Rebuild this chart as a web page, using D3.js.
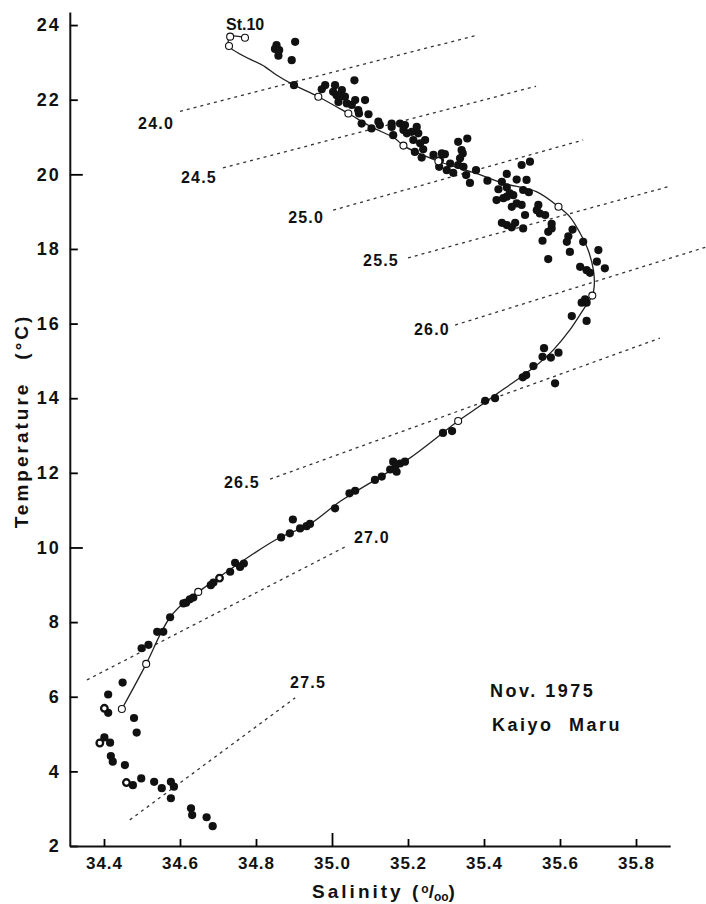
<!DOCTYPE html>
<html>
<head>
  <meta charset="utf-8">
  <script src="https://d3js.org/d3.v7.min.js"></script>
  <style>
    body { margin: 0; background: #fff; }
    text {
      font-family: "Liberation Sans", Arial, Helvetica, sans-serif;
      font-weight: bold;
      fill: #111;
    }
  </style>
</head>
<body>
<script>
/*
  T-S diagram data (salinity, temperature)
*/
var yTicks = [2, 4, 6, 8, 10, 12, 14, 16, 18, 20, 22, 24];
var xTicks = [34.4, 34.6, 34.8, 35.0, 35.2, 35.4, 35.6, 35.8];

// all other stations
var filledDots = [
  [34.854,23.46],[34.850,23.36],[34.861,23.33],[34.859,23.18],[34.903,23.55],[34.894,23.06],[34.900,22.39],
  [34.982,22.39],[34.973,22.28],[35.008,22.39],[35.003,22.21],[35.012,22.12],[35.026,22.26],[35.021,22.08],
  [35.017,21.94],[35.034,22.08],[35.039,21.90],[35.052,21.86],[35.061,21.99],[35.059,22.52],[35.087,21.99],
  [35.069,21.72],[35.071,21.63],[35.096,21.61],[35.078,21.36],[35.104,21.23],[35.122,21.41],[35.126,21.32],
  [35.157,21.36],[35.161,21.05],
  [35.157,21.27],[35.179,21.36],[35.192,21.32],[35.188,21.19],[35.197,21.10],[35.210,21.14],[35.223,21.27],
  [35.227,21.10],[35.214,20.92],[35.232,20.83],[35.245,20.92],[35.240,20.67],[35.218,20.60],[35.236,20.45],
  [35.267,20.52],[35.289,20.56],[35.297,20.54],[35.284,20.38],[35.282,20.20],[35.311,20.29],[35.302,20.11],
  [35.332,20.87],[35.356,20.96],[35.341,20.65],[35.344,20.56],[35.337,20.43],[35.332,20.25],[35.346,20.20],
  [35.319,20.04],[35.353,19.98],[35.363,19.77],[35.379,20.11],[35.409,19.83],[35.438,19.60],[35.460,20.01],
  [35.447,19.80],[35.486,19.86],[35.499,20.25],[35.512,19.85],[35.460,19.65],[35.468,19.49],[35.477,19.44],
  [35.433,19.31],[35.451,19.36],[35.486,19.22],[35.473,19.13],[35.503,19.58],[35.518,19.52],
  [35.521,20.34],[35.460,19.40],[35.499,19.18],[35.508,18.91],[35.543,19.18],[35.539,19.04],[35.547,18.95],
  [35.561,18.91],[35.447,18.70],[35.460,18.64],[35.473,18.58],[35.482,18.70],[35.503,18.55],[35.578,18.67],
  [35.578,18.55],[35.569,18.46],[35.633,18.52],[35.622,18.34],[35.618,18.19],[35.554,18.22],[35.661,18.19],
  [35.626,17.92],[35.701,17.97],[35.697,17.66],[35.569,17.73],[35.653,17.52],[35.670,17.43],[35.679,17.36],
  [35.718,17.48],
  [35.657,16.56],[35.666,16.65],[35.670,16.56],[35.631,16.20],[35.670,16.07],[35.558,15.34],[35.554,15.11],
  [35.576,15.09],[35.596,15.22],[35.530,14.86],[35.502,14.56],[35.511,14.62],[35.587,14.40],[35.429,14.00],
  [35.403,13.93],
  [35.292,13.07],[35.316,13.12],[35.161,12.30],[35.170,12.03],[35.153,12.09],[35.179,12.25],[35.192,12.30],
  [35.168,12.21],[35.131,11.90],[35.113,11.81],[35.061,11.52],[35.046,11.45],[35.008,11.05],[34.942,10.63],
  [34.933,10.57],[34.916,10.51],[34.897,10.75],[34.889,10.38],[34.866,10.27],[34.768,9.57],[34.745,9.59],
  [34.758,9.48],[34.732,9.35],[34.688,9.06],[34.681,8.99],[34.635,8.66],[34.626,8.61],[34.616,8.52],
  [34.609,8.50],[34.574,8.13],[34.540,7.74],[34.556,7.74],[34.517,7.39],[34.499,7.30],
  [34.449,6.38],[34.411,6.06],[34.411,5.57],[34.479,5.43],[34.486,5.04],[34.401,4.91],[34.416,4.77],
  [34.418,4.41],[34.423,4.26],[34.455,4.17],[34.476,3.63],[34.498,3.81],[34.532,3.72],[34.552,3.55],
  [34.576,3.72],[34.584,3.59],[34.576,3.28],[34.629,3.01],[34.632,2.83],[34.670,2.77],[34.686,2.53]
];

// dots printed with a white centre
var ringDots = [[34.401,5.69],[34.389,4.76],[34.459,3.70],[34.704,9.18]];

// St.10 observations (open circles)
var stationDots = [
  [34.771,23.66],[34.732,23.69],[34.729,23.44],[34.964,22.08],[35.043,21.63],[35.188,20.77],[35.280,20.35],
  [35.596,19.13],[35.685,16.75],[35.332,13.39],[34.648,8.81],[34.511,6.88],[34.447,5.67]
];

// hand drawn St.10 curve
var curvePts = [
  [34.771,23.66],[34.732,23.69],[34.729,23.44],[34.824,22.88],[34.854,22.66],[34.900,22.39],[34.964,22.08],
  [35.043,21.63],[35.104,21.27],[35.166,20.96],[35.188,20.77],[35.280,20.35],[35.389,19.99],[35.451,19.76],
  [35.539,19.53],[35.596,19.13],[35.626,18.86],[35.653,18.42],[35.674,17.97],[35.688,17.43],[35.690,16.99],
  [35.685,16.75],[35.666,16.45],[35.626,15.83],[35.582,15.29],[35.539,14.89],[35.486,14.49],[35.433,14.11],
  [35.389,13.79],[35.332,13.39],[35.197,12.34],[35.021,11.23],[34.942,10.63],[34.858,10.24],[34.749,9.53],
  [34.648,8.81],[34.618,8.59],[34.574,8.13],[34.547,7.65],[34.511,6.88],[34.447,5.67]
];

// sigma-t isopleths
var sigmaLabels = ["24.0", "24.5", "25.0", "25.5", "26.0", "26.5", "27.0", "27.5"];
var sigmaStart = [[34.600,21.69],[34.713,20.17],[35.003,19.04],[35.200,17.76],[35.324,15.96],[34.837,11.83],[34.355,6.45],[34.468,2.70]];
var sigmaEnd = [[35.382,23.73],[35.537,22.36],[35.661,20.92],[35.889,19.68],[35.984,18.05],[35.863,15.61],[35.039,10.04],[34.903,5.97]];
var sigmaLabelAt = [[34.537,21.37],[34.650,19.93],[34.932,18.85],[35.129,17.70],[35.263,15.85],[34.763,11.75],[35.105,10.28],[34.937,6.39]];

/*
  svg + scales
*/
var width = 706, height = 904;
var svg = d3.select("body").append("svg")
  .attr("width", width)
  .attr("height", height);

var x = d3.scaleLinear().domain([34.31, 35.89]).range([69.8, 670.2]);
var y = d3.scaleLinear().domain([2, 24.35]).range([846, 12]);

/*
  axes
*/
var yAxis = svg.append("g")
  .attr("transform", "translate(" + x.range()[0] + ",0)")
  .call(d3.axisLeft(y).tickValues(yTicks).tickSizeInner(-8).tickSizeOuter(0)
    .tickPadding(9).tickFormat(d3.format("d")));
yAxis.selectAll(".tick line")
  .attr("x2", function(d) { return d % 10 === 0 ? 13 : 8; })
  .attr("stroke-width", 1.8);
yAxis.selectAll(".tick text")
  .attr("font-size", null)
  .style("font-size", "18px")
  .style("letter-spacing", "2px");

var xAxis = svg.append("g")
  .attr("transform", "translate(0," + y.range()[0] + ")")
  .call(d3.axisBottom(x).tickValues(xTicks).tickSizeInner(-7).tickSizeOuter(0)
    .tickPadding(11).tickFormat(d3.format(".1f")));
xAxis.selectAll(".tick line")
  .attr("y2", function(d) { return Math.abs(d - 35) < 1e-6 ? -13 : -7; })
  .attr("stroke-width", 1.8);
xAxis.selectAll(".tick text")
  .attr("font-size", null)
  .style("font-size", "17px")
  .style("letter-spacing", "1px");

svg.selectAll(".domain").attr("stroke", "#111").attr("stroke-width", 2);

/*
  axis titles
*/
var yTitle = svg.append("text")
  .attr("transform", "translate(28,421) rotate(-90)")
  .attr("text-anchor", "middle")
  .style("font-size", "19px")
  .style("letter-spacing", "3px");
yTitle.append("tspan").text("Temperature");
yTitle.append("tspan").attr("dx", 22).text("(\u00B0C)");

var xTitle = svg.append("text")
  .attr("x", 385)
  .attr("y", 898)
  .attr("text-anchor", "middle")
  .style("font-size", "19px")
  .style("letter-spacing", "3px");
xTitle.append("tspan").text("Salinity (");
xTitle.append("tspan").attr("dy", -5).style("font-size", "12px").style("letter-spacing", "0px").text("o");
xTitle.append("tspan").attr("dy", 5).style("letter-spacing", "0px").text("/");
xTitle.append("tspan").attr("dy", 3).style("font-size", "12px").style("letter-spacing", "0px").text("oo");
xTitle.append("tspan").attr("dy", -3).text(")");

/*
  sigma-t lines
*/
var sig = svg.append("g").attr("class", "sigma");
sig.selectAll("line")
  .data(sigmaLabels)
  .enter().append("line")
  .attr("x1", function(d, i) { return x(sigmaStart[i][0]); })
  .attr("y1", function(d, i) { return y(sigmaStart[i][1]); })
  .attr("x2", function(d, i) { return x(sigmaEnd[i][0]); })
  .attr("y2", function(d, i) { return y(sigmaEnd[i][1]); })
  .attr("stroke", "#333")
  .attr("stroke-width", 1.3)
  .attr("stroke-dasharray", "3,4");
sig.selectAll("text")
  .data(sigmaLabels)
  .enter().append("text")
  .attr("x", function(d, i) { return x(sigmaLabelAt[i][0]); })
  .attr("y", function(d, i) { return y(sigmaLabelAt[i][1]); })
  .attr("dy", "0.36em")
  .attr("text-anchor", "middle")
  .style("font-size", "16px")
  .style("letter-spacing", "1.2px")
  .text(function(d) { return d; });

/*
  St.10 curve
*/
var line = d3.line()
  .x(function(d) { return x(d[0]); })
  .y(function(d) { return y(d[1]); })
  .curve(d3.curveCatmullRom.alpha(0.5));
svg.append("path")
  .datum(curvePts)
  .attr("d", line)
  .attr("fill", "none")
  .attr("stroke", "#222")
  .attr("stroke-width", 1.3);

/*
  points
*/
svg.append("g").selectAll("circle")
  .data(filledDots)
  .enter().append("circle")
  .attr("cx", function(d) { return x(d[0]); })
  .attr("cy", function(d) { return y(d[1]); })
  .attr("r", 4.1)
  .attr("fill", "#111");

svg.append("g").selectAll("circle")
  .data(ringDots)
  .enter().append("circle")
  .attr("cx", function(d) { return x(d[0]); })
  .attr("cy", function(d) { return y(d[1]); })
  .attr("r", 3.3)
  .attr("fill", "#fff")
  .attr("stroke", "#111")
  .attr("stroke-width", 2.3);

svg.append("g").selectAll("circle")
  .data(stationDots)
  .enter().append("circle")
  .attr("cx", function(d) { return x(d[0]); })
  .attr("cy", function(d) { return y(d[1]); })
  .attr("r", 3.5)
  .attr("fill", "#fff")
  .attr("stroke", "#111")
  .attr("stroke-width", 1.1);

/*
  annotations
*/
svg.append("text")
  .attr("x", 226).attr("y", 30)
  .style("font-size", "16px")
  .text("St.10");

svg.append("text")
  .attr("x", 490).attr("y", 697)
  .style("font-size", "18px")
  .style("letter-spacing", "2.5px")
  .text("Nov. 1975");

svg.append("text")
  .attr("x", 492).attr("y", 731)
  .style("font-size", "18px")
  .style("letter-spacing", "2.5px")
  .style("word-spacing", "8px")
  .text("Kaiyo Maru");
</script>
</body>
</html>
